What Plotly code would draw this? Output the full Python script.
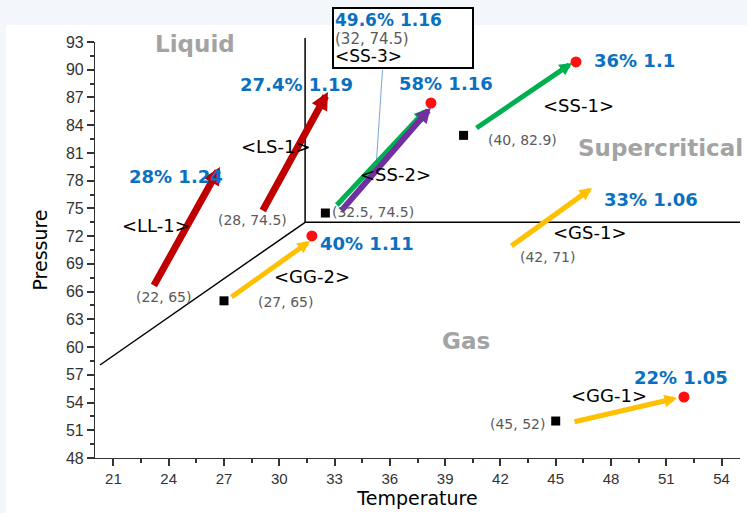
import plotly.graph_objects as go

# ---- data ----
# arrows: name, tail (x0,y0), head (x1,y1), colour
arrow_names = ["LL-1", "LS-1", "SS-3", "SS-2", "SS-1", "GS-1", "GG-2", "GG-1"]
arrow_x0 = [23.15, 29.06, 33.05, 33.30, 40.62, 42.52, 27.33, 45.94]
arrow_y0 = [66.5, 74.61, 75.2, 74.6, 83.59, 70.83, 65.31, 51.89]
arrow_x1 = [26.78, 32.64, 38.0, 38.22, 45.88, 46.97, 31.67, 51.58]
arrow_y1 = [79.48, 87.59, 85.75, 85.9, 90.73, 77.21, 71.47, 54.49]
arrow_colors = ["#c00000", "#c00000", "#00b050", "#7030a0", "#00b050", "#ffc000", "#ffc000", "#ffc000"]
arrow_widths = [7, 7, 5, 6, 5, 5, 5, 5]

# start points (black squares)
start_x = [32.5, 40.0, 27.0, 45.0]
start_y = [74.5, 82.9, 65.0, 52.0]
# end points (red dots)
end_x = [38.23, 46.10, 31.77, 51.96]
end_y = [86.40, 90.84, 72.02, 54.60]

# phase boundary
crit_x, crit_y = 31.4, 73.5
diag_x = [20.27, crit_x]
diag_y = [58.06, crit_y]

# labels
result_texts = ["27.4% 1.19", "28% 1.24", "58% 1.16", "36% 1.1", "33% 1.06", "40% 1.11", "22% 1.05"]
result_x = [30.96, 24.40, 39.05, 49.30, 50.17, 34.76, 51.80]
result_y = [88.35, 78.40, 88.46, 91.05, 75.91, 71.15, 56.76]

case_texts = ["<LL-1>", "<LS-1>", "<SS-1>", "<SS-2>", "<GS-1>", "<GG-2>", "<GG-1>"]
case_x = [23.31, 29.82, 46.26, 36.28, 46.86, 31.77, 47.89]
case_y = [73.10, 81.75, 86.08, 78.72, 72.34, 67.58, 54.71]

coord_texts = ["(28, 74.5)", "(32.5, 74.5)", "(40, 82.9)", "(42, 71)", "(22, 65)", "(27, 65)", "(45, 52)"]
coord_x = [28.52, 35.08, 43.22, 44.53, 23.69, 30.31, 42.90]
coord_y = [73.75, 74.61, 82.40, 69.74, 65.42, 64.88, 51.68]

phase_texts = ["Liquid", "Supercritical", "Gas"]
phase_x = [25.43, 50.66, 40.13]
phase_y = [92.79, 81.54, 60.66]

box_lines = ["49.6% 1.16", "(32, 74.5)", "<SS-3>"]

x_ticks = [21, 24, 27, 30, 33, 36, 39, 42, 45, 48, 51, 54]
y_ticks = [48, 51, 54, 57, 60, 63, 66, 69, 72, 75, 78, 81, 84, 87, 90, 93]

BLUE = "#0a70c2"
GRAY = "#a3a3a3"
LABEL_FONT = "DejaVu Sans"


def esc(s):
    return s.replace("<", "&lt;").replace(">", "&gt;")


fig = go.Figure()

# phase boundary lines
fig.add_trace(go.Scatter(x=diag_x, y=diag_y, mode="lines",
                         line=dict(color="black", width=1.5), hoverinfo="skip"))
fig.add_trace(go.Scatter(x=[crit_x, 55], y=[crit_y, crit_y], mode="lines",
                         line=dict(color="black", width=1.5), hoverinfo="skip"))

# callout line from SS-3 box to arrow
fig.add_trace(go.Scatter(x=[35.6, 35.25], y=[90.0, 79.4], mode="lines",
                         line=dict(color="#7aa6d8", width=1), hoverinfo="skip"))

# start squares and end dots
fig.add_trace(go.Scatter(x=start_x, y=start_y, mode="markers",
                         marker=dict(symbol="square", size=9, color="black"),
                         cliponaxis=False, hoverinfo="skip"))
fig.add_trace(go.Scatter(x=end_x, y=end_y, mode="markers",
                         marker=dict(symbol="circle", size=11, color="#ff1010"),
                         cliponaxis=False, hoverinfo="skip"))

annotations = []
for i in range(len(arrow_names)):
    annotations.append(dict(
        x=arrow_x1[i], y=arrow_y1[i], ax=arrow_x0[i], ay=arrow_y0[i],
        xref="x", yref="y", axref="x", ayref="y",
        text="", showarrow=True, arrowhead=2, arrowsize=0.5,
        arrowwidth=arrow_widths[i], arrowcolor=arrow_colors[i], standoff=0))

for t, x, y in zip(result_texts, result_x, result_y):
    annotations.append(dict(x=x, y=y, xref="x", yref="y", text="<b>" + t + "</b>",
                            showarrow=False, font=dict(family=LABEL_FONT, size=18, color=BLUE)))
for t, x, y in zip(case_texts, case_x, case_y):
    annotations.append(dict(x=x, y=y, xref="x", yref="y", text=esc(t),
                            showarrow=False, font=dict(family=LABEL_FONT, size=18, color="black")))
for t, x, y in zip(coord_texts, coord_x, coord_y):
    annotations.append(dict(x=x, y=y, xref="x", yref="y", text=t,
                            showarrow=False, font=dict(family=LABEL_FONT, size=14, color="#5a5a5a")))
for t, x, y in zip(phase_texts, phase_x, phase_y):
    annotations.append(dict(x=x, y=y, xref="x", yref="y", text="<b>" + t + "</b>",
                            showarrow=False, font=dict(family=LABEL_FONT, size=23, color=GRAY)))

# SS-3 box
box_text = ("<b><span style='color:" + BLUE + ";font-size:17px'>" + box_lines[0] + "</span></b><br>"
            "<span style='color:#5a5a5a;font-size:15px'>" + box_lines[1] + "</span><br>"
            "<span style='color:black;font-size:17px'>" + esc(box_lines[2]) + "</span>")
annotations.append(dict(
    x=(332 - 95) / 645.0, y=(458 - 7) / 416.0, xref="paper", yref="paper",
    xanchor="left", yanchor="top", showarrow=False, width=136,
    text=box_text, align="left", font=dict(family=LABEL_FONT, size=14),
    bordercolor="black", borderwidth=2, borderpad=1, bgcolor="white"))

shapes = [
    # white card background
    dict(type="rect", xref="paper", yref="paper",
         x0=(6 - 95) / 645.0, x1=(747 - 95) / 645.0,
         y0=-60 / 416.0, y1=(458 - 25) / 416.0,
         fillcolor="white", line=dict(width=0), layer="below"),
    # vertical phase boundary
    dict(type="line", xref="x", yref="paper", x0=crit_x, x1=crit_x,
         y0=(crit_y - 48) / 45.0, y1=(458 - 38) / 416.0,
         line=dict(color="black", width=1.5)),
]

fig.update_layout(
    width=747, height=513,
    margin=dict(l=95, r=7, t=42, b=55),
    paper_bgcolor="#f3f7fc", plot_bgcolor="white",
    showlegend=False,
    annotations=annotations, shapes=shapes,
    font=dict(family="Liberation Sans", color="#333333"),
    xaxis=dict(range=[20, 55], tickvals=x_ticks, showgrid=False, zeroline=False,
               showline=True, linecolor="#333333", linewidth=1.2,
               ticks="outside", ticklen=7, tickwidth=1.5, tickcolor="#333333",
               minor=dict(dtick=1.5, tick0=0, ticks="outside", ticklen=4, tickcolor="#333333"),
               tickfont=dict(size=15, family="Liberation Sans", color="#333333"),
               title=dict(text="Temperature", font=dict(size=19, family="DejaVu Sans", color="black"),
                          standoff=0)),
    yaxis=dict(range=[48, 93], tickvals=y_ticks, showgrid=False, zeroline=False,
               showline=True, linecolor="#333333", linewidth=1.2,
               ticks="outside", ticklen=7, tickwidth=1.5, tickcolor="#333333",
               minor=dict(dtick=1.5, tick0=0, ticks="outside", ticklen=4, tickcolor="#333333"),
               tickfont=dict(size=16, family="Liberation Sans", color="#333333"),
               title=dict(text="Pressure", font=dict(size=19, family="DejaVu Sans", color="black"),
                          standoff=13)),
)

fig.write_html("out.html")
